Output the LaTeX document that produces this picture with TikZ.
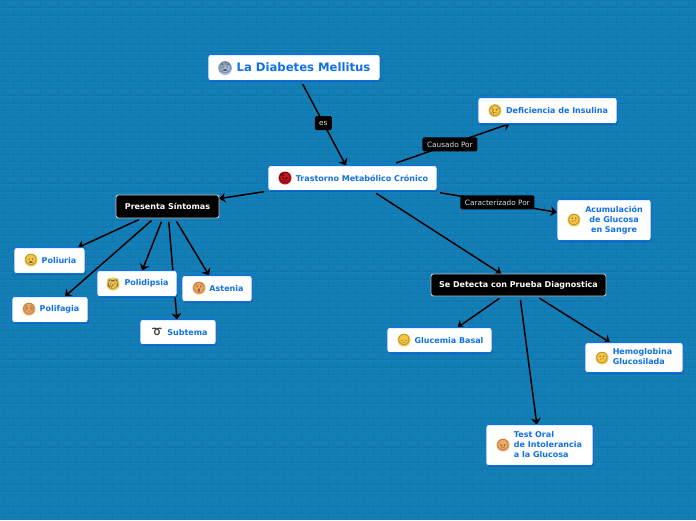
\documentclass[tikz,border=0pt]{standalone}
\usepackage{fontspec}
\setmainfont{DejaVu Sans}
\newfontfamily\emojifont{Noto Emoji}
\usetikzlibrary{arrows.meta,backgrounds,shadows}
\definecolor{bgblue}{HTML}{137DB5}
\definecolor{brickdark}{HTML}{1176AD}
\definecolor{brickmid}{HTML}{1782BA}
\definecolor{nodeblue}{HTML}{0F71E8}
\definecolor{shadowblue}{HTML}{0C5A9E}
\definecolor{faceyellow}{HTML}{F8C53F}
\definecolor{faceorange}{HTML}{F5A65A}
\definecolor{facered}{HTML}{C8141E}
\definecolor{faceblue}{HTML}{9FB8D8}
\newcommand{\fg}[1]{\smash{\makebox[0pt]{\raisebox{-3.7pt}{#1}}}}
\tikzset{
  x=1pt,y=-1pt,
  tile/.style={yshift=-0.6pt,draw=nodeblue,line width=0.8pt,fill=white,rounded corners=2.5pt,text=nodeblue,
    font=\bfseries\fontsize{8}{10}\selectfont,inner sep=0pt,outer sep=0pt,
    drop shadow={shadow xshift=0.8pt,shadow yshift=-1pt,fill=shadowblue,opacity=1}},
  blacktile/.style={draw=white!75!black,line width=0.9pt,fill=black,rounded corners=2.5pt,text=white,
    font=\bfseries\fontsize{8}{10}\selectfont,inner sep=0pt,outer sep=0pt},
  titletile/.style={tile,font=\bfseries\fontsize{11.65}{13}\selectfont},
  tag/.style={fill=black,text=white!88!black,rounded corners=1.5pt,inner sep=0pt,
    font=\fontsize{7.3}{8}\selectfont,minimum height=14pt},
  link/.style={draw=black,line width=1.5pt,-{Stealth[length=6.5pt,width=10pt]},shorten <=4pt},
  face/.style={circle,fill=faceyellow,inner sep=0pt,minimum size=13pt,text=black!65,
    font=\emojifont\fontsize{10.5}{10.5}\selectfont},
}
\begin{document}
\begin{tikzpicture}
\useasboundingbox (0,0) rectangle (696,520);
% nodes
\node[titletile,minimum width=172pt,minimum height=26pt] (title) at (294,67) {\hspace*{19pt}La Diabetes Mellitus};
\node[tile,minimum width=169pt,minimum height=25pt] (main) at (352.5,177.5) {\hspace*{19pt}Trastorno Metabólico Crónico};
\node[blacktile,minimum width=103pt,minimum height=23pt] (sint) at (167.5,206.5) {Presenta Síntomas};
\node[tile,minimum width=71pt,minimum height=26pt] (poliuria) at (49.5,260) {\hspace*{19pt}Poliuria};
\node[tile,minimum width=80pt,minimum height=26pt] (polidipsia) at (137,283) {\hspace*{19pt}Polidipsia};
\node[tile,minimum width=76pt,minimum height=26pt] (polifagia) at (50,309) {\hspace*{19pt}Polifagia};
\node[tile,minimum width=70pt,minimum height=26pt] (astenia) at (217,288) {\hspace*{19pt}Astenia};
\node[tile,minimum width=76pt,minimum height=25pt] (subtema) at (178,331.5) {\hspace*{19pt}Subtema};
\node[tile,minimum width=139pt,minimum height=26pt] (defi) at (547.5,110) {\hspace*{19pt}Deficiencia de Insulina};
\node[tile,minimum width=94pt,minimum height=41pt,align=center] (acum) at (604,219.5) {\hspace*{20pt}\begin{tabular}{@{}c@{}}Acumulación\\de Glucosa\\en Sangre\end{tabular}};
\node[blacktile,minimum width=175pt,minimum height=22pt] (prueba) at (518.5,285) {Se Detecta con Prueba Diagnostica};
\node[tile,minimum width=105pt,minimum height=25pt] (gluc) at (439.5,339.5) {\hspace*{19pt}Glucemia Basal};
\node[tile,minimum width=98pt,minimum height=30pt] (hemo) at (634,357) {\hspace*{17pt}\begin{tabular}{@{}l@{}}Hemoglobina\\Glucosilada\end{tabular}};
\node[tile,minimum width=107pt,minimum height=41pt] (test) at (539.5,444.5) {\hspace*{17pt}\begin{tabular}{@{}l@{}}Test Oral\\de Intolerancia\\a la Glucosa\end{tabular}};
% faces
\node[face,fill=faceblue,minimum size=14pt,font=\emojifont\fontsize{11}{11}\selectfont] (f0) at (225,68) {\fg{😰}};
\node[face,fill=facered,text=black] (f1) at (285,178) {\fg{😡}};
\node[face] (f2) at (31,260) {\fg{😦}};
\node[face] (f3) at (113,284) {\fg{😿}};
\node[face,fill=faceorange] (f4) at (29,309) {\fg{😳}};
\node[face,fill=faceorange] (f5) at (199,288) {\fg{😲}};
\node[face,fill=none,text=black!75] (f6) at (157,332) {\fg{➰}};
\node[face] (f7) at (495,110.5) {\fg{😢}};
\node[face] (f8) at (574,220) {\fg{😕}};
\node[face] (f9) at (404,340) {\fg{😞}};
\node[face] (f10) at (602,358) {\fg{😕}};
\node[face,fill=faceorange] (f11) at (503,445) {\fg{😠}};
% connectors and background
\begin{scope}[on background layer]
\fill[bgblue] (0,0) rectangle (696,520);
\foreach \r in {0,...,71}{
  \draw[brickdark,line width=0.7pt] (0,{0.5+7.33*\r}) -- (696,{0.5+7.33*\r});
  \draw[brickmid,line width=0.6pt] (0,{1.3+7.33*\r}) -- (696,{1.3+7.33*\r});
}
\foreach \c in {0,...,38}{
  \draw[brickdark,line width=0.6pt,dash pattern=on 7.33pt off 7.33pt] ({4+18*\c},0.5) -- ({4+18*\c},520);
  \draw[brickdark,line width=0.6pt,dash pattern=on 7.33pt off 7.33pt] ({13+18*\c},7.83) -- ({13+18*\c},520);
}
\draw[link] (title) -- node[tag,minimum width=17pt,pos=.5] (tes) {es} (main);
\draw[link,shorten <=8pt] (main) -- node[tag,minimum width=55pt,pos=.505] (tcau) {Causado Por} (defi);
\draw[link,shorten <=13pt] (main) -- node[tag,minimum width=74pt,pos=.54] (tcar) {Caracterizado Por} (acum);
\draw[link,shorten <=7pt] (main) -- (sint);
\draw[link,shorten <=5pt] (main) -- (prueba);
\draw[link] (sint) -- (poliuria);
\draw[link] (sint) -- (polidipsia);
\draw[link] (sint) -- (polifagia);
\draw[link] (sint) -- (astenia);
\draw[link] (sint) -- (subtema);
\draw[link] (prueba) -- (gluc);
\draw[link] (prueba) -- (hemo);
\draw[link] (prueba) -- (test);
\end{scope}
\end{tikzpicture}
\end{document}
